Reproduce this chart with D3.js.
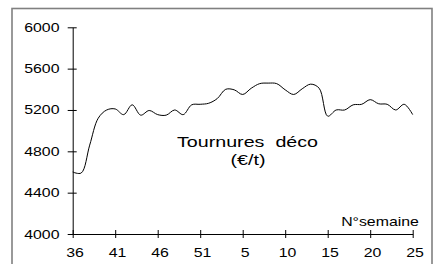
<!DOCTYPE html>
<html>
<head>
<meta charset="utf-8">
<script src="https://cdnjs.cloudflare.com/ajax/libs/d3/7.8.5/d3.min.js"></script>
<style>
  body { margin: 0; background: #fff; }
  svg text { font-family: "Liberation Sans", Arial, sans-serif; fill: #000; }
</style>
</head>
<body>
<svg id="chart"></svg>
<script>
// weekly values, week 36 to week 25 of the next year
const weeks = [36, 37, 38, 39, 40, 41, 42, 43, 44, 45, 46, 47, 48, 49, 50, 51,
  1, 2, 3, 4, 5, 6, 7, 8, 9, 10, 11, 12, 13, 14, 15, 16, 17, 18, 19, 20, 21, 22, 23, 24, 25]
const prices = [4600, 4590, 4860, 5120, 5200, 5210, 5155, 5250, 5150, 5195, 5155,
  5150, 5200, 5155, 5250, 5255, 5265, 5310, 5400, 5395, 5350, 5410, 5455, 5460,
  5455, 5395, 5350, 5405, 5450, 5410, 5140, 5200, 5200, 5250, 5255, 5300, 5260,
  5255, 5200, 5255, 5155]
const xTickLabels = [36, 41, 46, 51, 5, 10, 15, 20, 25]
const yTicks = [4000, 4400, 4800, 5200, 5600, 6000]

const W = 434, H = 264
const sx = 1.27 // the picture is stretched sideways

const svg = d3.select('#chart').attr('width', W).attr('height', H)

svg.append('rect')
  .attr('x', 12).attr('y', 8.5)
  .attr('width', 420).attr('height', 270)
  .attr('fill', 'none')
  .attr('stroke', '#808080')
  .attr('stroke-width', 1.6)

const xScale = d3.scaleLinear().domain([0, weeks.length - 1]).range([72.7, 412.7])
const yScale = d3.scaleLinear().domain([4000, 6000]).range([234, 27.3])

const xAxis = d3.axisBottom(xScale)
  .tickValues(xTickLabels.map((w) => weeks.indexOf(w)))
  .tickFormat((i) => weeks[i])
  .tickSizeInner(4).tickSizeOuter(0)

const gx = svg.append('g')
  .attr('transform', `translate(0, ${yScale(4000)})`)
  .call(xAxis)
gx.select('.domain').attr('stroke', '#000')
gx.selectAll('.tick line').attr('y1', -4).attr('stroke', '#000')
gx.selectAll('.tick text')
  .attr('y', 14)
  .attr('transform', `scale(${sx},1)`)
  .attr('x', 1.5)
  .style('font-size', '12.5px')

const yAxis = d3.axisLeft(yScale)
  .tickValues(yTicks)
  .tickFormat(d3.format('d'))
  .tickSizeInner(5).tickSizeOuter(0)

const gy = svg.append('g')
  .attr('transform', `translate(${xScale(0)}, 0)`)
  .call(yAxis)
gy.select('.domain').attr('stroke', '#000')
gy.selectAll('.tick line').attr('x1', 4).attr('stroke', '#000')
gy.selectAll('.tick text')
  .attr('x', -13.2 / sx)
  .attr('transform', `scale(${sx},1)`)
  .style('font-size', '12.5px')

const line = d3.line()
  .x((d, i) => xScale(i))
  .y((d) => yScale(d))
  .curve(d3.curveCatmullRom.alpha(0.5))

svg.append('path')
  .datum(prices)
  .attr('d', line)
  .attr('fill', 'none')
  .attr('stroke', '#000')
  .attr('stroke-width', 1)

// labels
svg.append('text')
  .attr('transform', `translate(247.5, 147) scale(${sx},1)`)
  .attr('text-anchor', 'middle')
  .style('font-size', '15.5px')
  .style('white-space', 'pre')
  .text('Tournures  déco')

svg.append('text')
  .attr('transform', `translate(248, 165) scale(${sx},1)`)
  .attr('text-anchor', 'middle')
  .style('font-size', '15.5px')
  .text('(€/t)')

svg.append('text')
  .attr('transform', `translate(380, 226) scale(${sx},1)`)
  .attr('text-anchor', 'middle')
  .style('font-size', '12.5px')
  .text('N°semaine')
</script>
</body>
</html>
